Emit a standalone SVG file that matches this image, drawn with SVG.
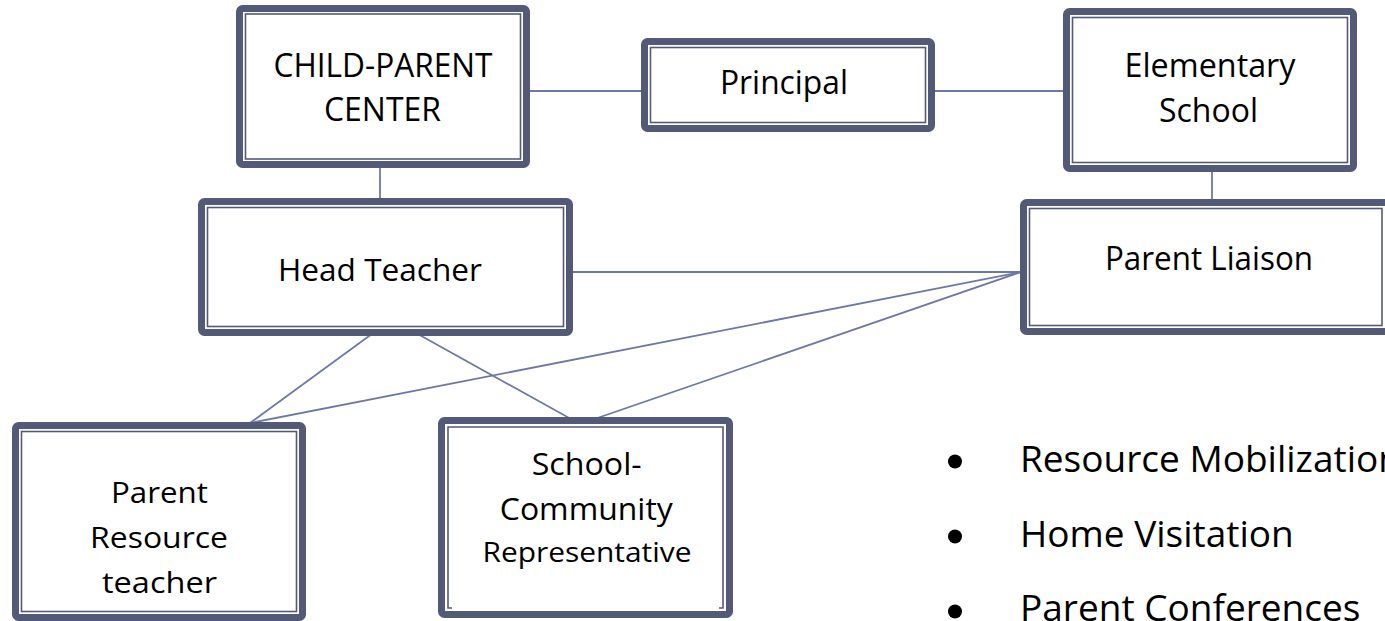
<svg xmlns="http://www.w3.org/2000/svg" width="1385" height="621" viewBox="0 0 1385 621">
<style>
.outer{fill:#ffffff;stroke:#535a78;stroke-width:7;}
.inner{fill:none;stroke:#535a78;stroke-width:1.6;}
.conn{fill:none;stroke:#6e78a6;stroke-width:1.8;}
.t{font-family:"Open Sans","Liberation Sans",sans-serif;fill:#000000;text-anchor:middle;}
.b{font-family:"Open Sans","Liberation Sans",sans-serif;fill:#000000;font-size:37px;}
</style>
<rect width="1385" height="621" fill="#ffffff"/>
<g id="connectors">
<line class="conn" x1="530" y1="91" x2="641" y2="91"/>
<line class="conn" x1="935" y1="91" x2="1063" y2="91"/>
<line class="conn" x1="380" y1="168" x2="380" y2="198"/>
<line class="conn" x1="1212" y1="172" x2="1212" y2="199"/>
<line class="conn" x1="573" y1="272" x2="1021" y2="272"/>
<line class="conn" x1="1021" y1="272" x2="250" y2="423"/>
<line class="conn" x1="1021" y1="272" x2="580" y2="424"/>
<line class="conn" x1="380" y1="328" x2="250" y2="423"/>
<line class="conn" x1="407" y1="328" x2="580" y2="424"/>
</g>
<g id="child-parent-center">
<rect class="outer" x="239.5" y="8.5" width="287" height="156" rx="3"/>
<rect class="inner" x="245.5" y="14" width="275" height="145"/>
<text class="t" font-size="33" x="383" y="77" textLength="219" lengthAdjust="spacingAndGlyphs">CHILD-PARENT</text>
<text class="t" font-size="33" x="382.5" y="121" textLength="117" lengthAdjust="spacingAndGlyphs">CENTER</text>
</g>
<g id="principal">
<rect class="outer" x="644.5" y="41.5" width="287" height="87" rx="3"/>
<rect class="inner" x="650.5" y="47.5" width="275" height="75"/>
<text class="t" font-size="33" x="784" y="94" textLength="128" lengthAdjust="spacingAndGlyphs">Principal</text>
</g>
<g id="elementary-school">
<rect class="outer" x="1066.5" y="11.5" width="287" height="157" rx="3"/>
<rect class="inner" x="1072.5" y="17.5" width="275" height="145"/>
<text class="t" font-size="32" x="1210" y="77" textLength="171" lengthAdjust="spacingAndGlyphs">Elementary</text>
<text class="t" font-size="32" x="1208.5" y="122" textLength="99" lengthAdjust="spacingAndGlyphs">School</text>
</g>
<g id="parent-liaison">
<rect class="outer" x="1023.5" y="202.5" width="365" height="129" rx="3"/>
<rect class="inner" x="1029.5" y="208.5" width="352.5" height="117"/>
<text class="t" font-size="33" x="1209" y="270" textLength="208" lengthAdjust="spacingAndGlyphs">Parent Liaison</text>
</g>
<g id="head-teacher">
<rect class="outer" x="201.5" y="201.5" width="368" height="131" rx="3"/>
<rect class="inner" x="207.5" y="207.5" width="356" height="119"/>
<text class="t" font-size="31.5" x="380" y="281" textLength="204" lengthAdjust="spacingAndGlyphs">Head Teacher</text>
</g>
<g id="parent-resource-teacher">
<rect class="outer" x="15.5" y="425.5" width="287" height="192" rx="3"/>
<rect class="inner" x="21.5" y="431.5" width="275" height="180"/>
<text class="t" font-size="30" x="159.5" y="503" textLength="97" lengthAdjust="spacingAndGlyphs">Parent</text>
<text class="t" font-size="30" x="159" y="548" textLength="138" lengthAdjust="spacingAndGlyphs">Resource</text>
<text class="t" font-size="30" x="159.5" y="593" textLength="115" lengthAdjust="spacingAndGlyphs">teacher</text>
</g>
<g id="school-community-representative">
<rect class="outer" x="441.5" y="420.5" width="288" height="194" rx="3"/>
<path class="inner" d="M452 608 H448 V427 H723 V608 H719"/>
<text class="t" font-size="31" x="586.7" y="475" textLength="110" lengthAdjust="spacingAndGlyphs">School-</text>
<text class="t" font-size="31" x="586.3" y="520" textLength="173" lengthAdjust="spacingAndGlyphs">Community</text>
<text class="t" font-size="28" x="587" y="562" textLength="209" lengthAdjust="spacingAndGlyphs">Representative</text>
</g>
<g id="bullet-list">
<circle cx="955" cy="461.5" r="7" fill="#000000"/>
<text class="b" x="1020" y="472">Resource Mobilization</text>
<circle cx="955" cy="536.5" r="7" fill="#000000"/>
<text class="b" x="1020" y="547">Home Visitation</text>
<circle cx="955" cy="611.5" r="7" fill="#000000"/>
<text class="b" x="1020" y="621">Parent Conferences</text>
</g>
</svg>
